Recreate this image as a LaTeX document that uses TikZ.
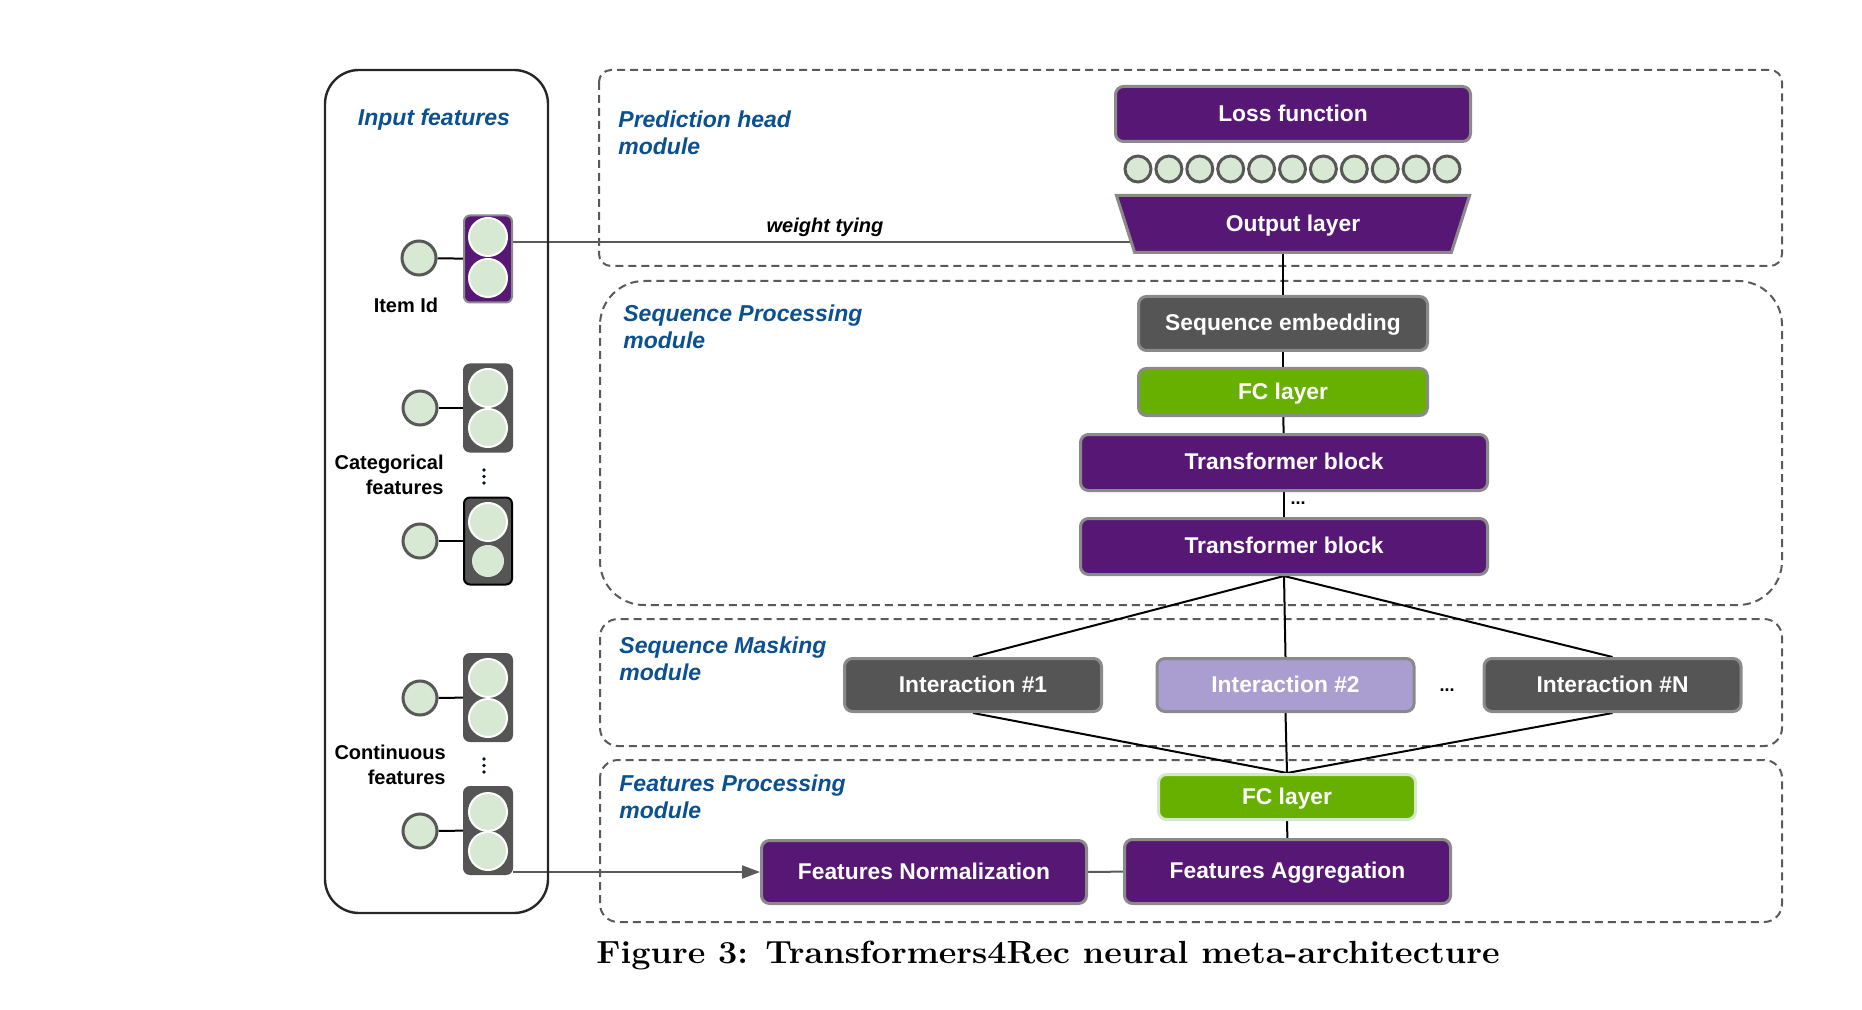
\documentclass[tikz,border=0pt]{standalone}
\usepackage{fontspec}
\setsansfont{Liberation Sans}
\usepackage{tikz}
\usetikzlibrary{shapes.geometric}
\usetikzlibrary{backgrounds}
\usetikzlibrary{arrows.meta}

\definecolor{nvpurple}{RGB}{86,24,116}
\definecolor{nvgray}{RGB}{85,85,85}
\definecolor{nvgreen}{RGB}{104,176,0}
\definecolor{nvlilac}{RGB}{170,157,208}
\definecolor{edgegray}{RGB}{138,138,138}
\definecolor{ringgray}{RGB}{88,88,88}
\definecolor{cellgreen}{RGB}{215,233,210}
\definecolor{palegreen}{RGB}{210,232,200}
\definecolor{labblue}{RGB}{11,80,145}
\definecolor{modgray}{RGB}{90,90,90}

\tikzset{
  modbox/.style={draw=modgray, line width=1pt, dash pattern=on 4pt off 2.5pt},
  modtitle/.style={anchor=west, align=left, inner sep=0pt, text=labblue,
    font=\sffamily\bfseries\itshape\fontsize{11.5}{13.5}\selectfont},
  block/.style={rectangle, rounded corners=4pt, draw=edgegray, line width=1.5pt,
    inner sep=0pt, text height=0.76em, text depth=0.03em, text=white,
    font=\sffamily\bfseries\fontsize{11.4}{13}\selectfont},
  outlayer/.style={trapezium, shape border rotate=180, trapezium stretches=true,
    trapezium left angle=64, trapezium right angle=64, draw=edgegray, line width=1.5pt,
    fill=nvpurple, inner sep=0pt, text height=0.76em, text depth=0.03em, text=white,
    font=\sffamily\bfseries\fontsize{11.4}{13}\selectfont},
  outcell/.style={circle, draw=ringgray, fill=cellgreen, line width=1.5pt, minimum size=13pt, inner sep=0pt},
  featcircle/.style={circle, draw=ringgray, fill=cellgreen, line width=1.5pt, minimum size=17pt, inner sep=0pt},
  featbox/.style={rectangle, rounded corners=3pt, line width=1pt, minimum width=24pt,
    minimum height=43.5pt, inner sep=0pt},
  cell/.style={circle, draw=white, fill=cellgreen, line width=1pt, minimum size=19pt, inner sep=0pt},
  sidelabel/.style={anchor=east, align=right, inner sep=0pt,
    font=\sffamily\bfseries\fontsize{10}{12.5}\selectfont},
  hdots/.style={inner sep=0pt, font=\sffamily\bfseries\fontsize{9}{10}\selectfont},
  link/.style={line width=1pt, black},
}

\begin{document}
\begin{tikzpicture}[x=0.5pt, y=-0.5pt]
    \useasboundingbox (0,0) rectangle (1862,1010);
    % input features
    \draw [line width=1.2pt, draw=black!85, rounded corners=17pt] (325,70) rectangle (548,913);
    \node [modtitle, anchor=center] (inlabel) at (434,119.5) {Input features};
    % item id
    \node [featcircle] (itemin) at (419,258) {};
    \node [featbox, fill=nvpurple, draw=edgegray] (item) at (488,259) {};
    \node [cell] at (488,237) {};
    \node [cell] at (488,278) {};
    \node [sidelabel, anchor=center] (itemlabel) at (406,305) {Item Id};
    % categorical features
    \node [featcircle] (catin1) at (420,408) {};
    \node [featbox, fill=nvgray, draw=nvgray] (cat1) at (488,408) {};
    \node [cell] at (488,388) {};
    \node [cell] at (488,428) {};
    \node [sidelabel] (catlabel) at (444,474.5) {Categorical\\features};
    \fill [black!75!labblue] (484,470) circle (0.9pt) (484,476.5) circle (0.9pt) (484,483) circle (0.9pt); % dots
    \node [featcircle] (catin2) at (420,541) {};
    \node [featbox, fill=nvgray, draw=black] (cat2) at (488,541) {};
    \node [cell] at (488,522) {};
    \node [cell, draw=none, minimum size=16pt] at (488,561) {};
    % continuous features
    \node [featcircle] (conin1) at (420,698) {};
    \node [featbox, fill=nvgray, draw=nvgray] (con1) at (488,697.5) {};
    \node [cell] at (488,678) {};
    \node [cell] at (488,718) {};
    \node [sidelabel] (conlabel) at (446,765) {Continuous\\features};
    \fill [black!75!labblue] (484,759) circle (0.9pt) (484,765.5) circle (0.9pt) (484,772) circle (0.9pt); % dots
    \node [featcircle] (conin2) at (420,831) {};
    \node [featbox, fill=nvgray, draw=nvgray] (con2) at (488,830.5) {};
    \node [cell] at (488,812) {};
    \node [cell] at (488,851) {};
    % prediction head module
    \node [modtitle] (predlabel) at (618,133) {Prediction head\\module};
    \node [block, fill=nvpurple, minimum width=177.5pt, minimum height=27.5pt] (loss) at (1293,114) {Loss function};
    \foreach \i in {0,...,10}
        \node [outcell] (logit\i) at (1138+30.9*\i,169) {};
    \node [outlayer, minimum width=177.5pt, minimum height=28.5pt] (out) at (1293,224) {Output layer};
    \node [font=\sffamily\bfseries\itshape\fontsize{10}{12}\selectfont] (tying) at (825,227) {weight tying};
    % sequence processing module
    \node [modtitle] (seqlabel) at (623,326.5) {Sequence Processing\\module};
    \node [block, fill=nvgray, minimum width=144.5pt, minimum height=27pt] (seqemb) at (1283,323.5) {Sequence embedding};
    \node [block, fill=nvgreen, minimum width=144.5pt, minimum height=23.5pt] (fc1) at (1283,392) {FC layer};
    \node [block, fill=nvpurple, minimum width=203.5pt, minimum height=28pt] (tb1) at (1284,462.5) {Transformer block};
    \node [hdots] (tbdots) at (1298,503) {...};
    \node [block, fill=nvpurple, minimum width=203.5pt, minimum height=28pt] (tb2) at (1284,546.5) {Transformer block};
    % sequence masking module
    \node [modtitle] (masklabel) at (619,658.5) {Sequence Masking\\module};
    \node [block, fill=nvgray, minimum width=128.5pt, minimum height=26.5pt] (int1) at (973,685) {Interaction \#1};
    \node [block, fill=nvlilac, minimum width=128.5pt, minimum height=26.5pt] (int2) at (1285.5,685) {Interaction \#2};
    \node [hdots] (intdots) at (1447,690) {...};
    \node [block, fill=nvgray, minimum width=128.5pt, minimum height=26.5pt] (intn) at (1612.5,685) {Interaction \#N};
    % features processing module
    \node [modtitle] (featlabel) at (619,796.5) {Features Processing\\module};
    \node [block, fill=nvgreen, draw=palegreen, minimum width=128.5pt, minimum height=22.5pt] (fc2) at (1287,797) {FC layer};
    \node [block, fill=nvpurple, minimum width=162.5pt, minimum height=31.5pt] (fn) at (924,872) {Features Normalization};
    \node [block, fill=nvpurple, minimum width=163pt, minimum height=32pt] (fa) at (1287.5,871.5) {Features Aggregation};
    % caption
    \node [anchor=base, xscale=1.07, font=\rmfamily\bfseries\fontsize{16}{18}\selectfont] (caption) at (1048,963) {Figure 3: Transformers4Rec neural meta-architecture};
    \begin{scope}[on background layer]
        % module frames
        \draw [modbox, rounded corners=6pt] (599,70) rectangle (1782,266);
        \draw [modbox, rounded corners=22pt] (600,281) rectangle (1782,605);
        \draw [modbox, rounded corners=9pt] (600,619) rectangle (1782,746);
        \draw [modbox, rounded corners=9pt] (600,760) rectangle (1782,922);
        % inputs
        \draw [link] (itemin) to (item);
        \draw [link] (catin1) to (cat1);
        \draw [link] (catin2) to (cat2);
        \draw [link] (conin1) to (con1);
        \draw [link] (conin2) to (con2);
        \draw [line width=1pt, draw=modgray] ([yshift=8.5pt]item.east) to ([yshift=8.5pt]item.east -| out.center);
        \draw [line width=1pt, draw=modgray, -{Triangle[length=9pt, width=6.5pt]}] (con2.east |- fn.west) to (fn.west);
        % stack
        \draw [link] (seqemb.north) to (seqemb.north |- out.south);
        \draw [link] (seqemb) to (fc1);
        \draw [link] (fc1) to (tb1);
        \draw [link] (tb1) to (tb2);
        \draw [link] (tb2.south) to (int1.north);
        \draw [link] (tb2.south) to (int2.north);
        \draw [link] (tb2.south) to (intn.north);
        \draw [link] (int1.south) to (fc2.north);
        \draw [link] (int2.south) to (fc2.north);
        \draw [link] (intn.south) to (fc2.north);
        \draw [link] (fc2) to (fa);
        \draw [line width=1pt, draw=modgray] (fn) to (fa);
    \end{scope}
\end{tikzpicture}
\end{document}
